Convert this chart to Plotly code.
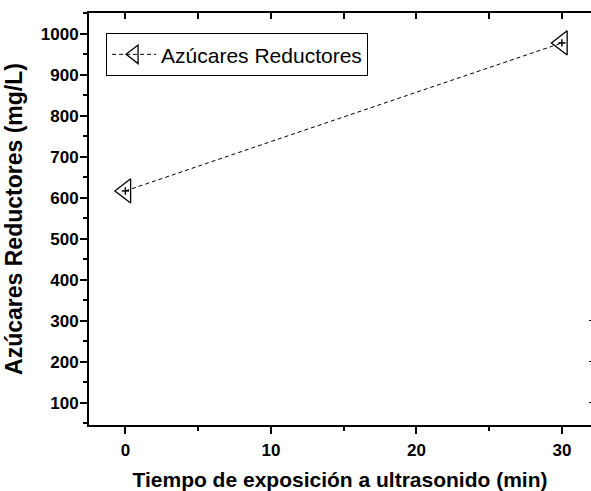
import plotly.graph_objects as go

# Reducing sugars vs ultrasound exposure time
tiempo_min = [0, 30]
azucares_mg_l = [617, 978]
err_azucares = [9, 9]
err_tiempo = [0.25, 0.25]

x_ticks = [0, 10, 20, 30]
y_ticks = [100, 200, 300, 400, 500, 600, 700, 800, 900, 1000]

FONT = "Liberation Sans, Arial, sans-serif"

fig = go.Figure()
fig.add_trace(go.Scatter(
    x=tiempo_min,
    y=azucares_mg_l,
    mode="lines+markers",
    name="Azúcares Reductores",
    line=dict(color="black", width=1, dash="4px,3px"),
    marker=dict(symbol="triangle-left-open", size=21, color="black",
                line=dict(color="black", width=1.3)),
    error_y=dict(type="data", array=err_azucares, color="black",
                 thickness=1.5, width=0),
    error_x=dict(type="data", array=err_tiempo, color="black",
                 thickness=1.5, width=0),
))

fig.update_layout(
    width=591,
    height=491,
    margin=dict(l=89, r=0, t=13, b=66),
    paper_bgcolor="white",
    plot_bgcolor="white",
    font=dict(family=FONT, color="black"),
    showlegend=True,
    legend=dict(
        x=0.034, y=0.951, xanchor="left", yanchor="top",
        bgcolor="white", bordercolor="black", borderwidth=1,
        font=dict(family=FONT, size=21, color="black"),
        itemwidth=44,
    ),
    xaxis=dict(
        range=[-2.5, 32],
        tickvals=x_ticks,
        ticks="outside", ticklen=7, tickwidth=1.5, tickcolor="black",
        minor=dict(dtick=5, ticks="outside", ticklen=4, tickwidth=1.5,
                   tickcolor="black"),
        showline=True, linecolor="black", linewidth=2,
        showgrid=False, zeroline=False,
        tickfont=dict(family=FONT, size=17, weight="bold"),
        ticklabelstandoff=2,
        title=dict(text="<b>Tiempo de exposición a ultrasonido (min)</b>",
                   font=dict(family=FONT, size=21), standoff=16),
    ),
    xaxis2=dict(
        range=[-2.5, 32], overlaying="x", side="top",
        tickvals=[0, 5, 10, 15, 20, 25, 30],
        ticks="inside", ticklen=6, tickwidth=1.5, tickcolor="black",
        showticklabels=False,
        showline=True, linecolor="black", linewidth=2,
        showgrid=False, zeroline=False,
    ),
    yaxis=dict(
        range=[46, 1051],
        tickvals=y_ticks,
        ticks="outside", ticklen=7, tickwidth=1.5, tickcolor="black",
        minor=dict(dtick=50, tick0=0, ticks="outside", ticklen=4,
                   tickwidth=1.5, tickcolor="black"),
        showline=True, linecolor="black", linewidth=2,
        showgrid=False, zeroline=False,
        tickfont=dict(family=FONT, size=17, weight="bold"),
        ticklabelstandoff=-2,
        title=dict(text="<b>Azúcares Reductores (mg/L)</b>",
                   font=dict(family=FONT, size=23), standoff=12),
    ),
    yaxis2=dict(
        range=[46, 1051], overlaying="y", side="right",
        tickvals=[100, 200, 300],
        ticks="inside", ticklen=2, tickwidth=1, tickcolor="black",
        showticklabels=False, showline=False,
        showgrid=False, zeroline=False,
    ),
)

# invisible trace so the top and right axes are drawn
fig.add_trace(go.Scatter(x=[None], y=[None], xaxis="x2", yaxis="y2",
                         showlegend=False, hoverinfo="skip"))

fig.write_html("out.html")
